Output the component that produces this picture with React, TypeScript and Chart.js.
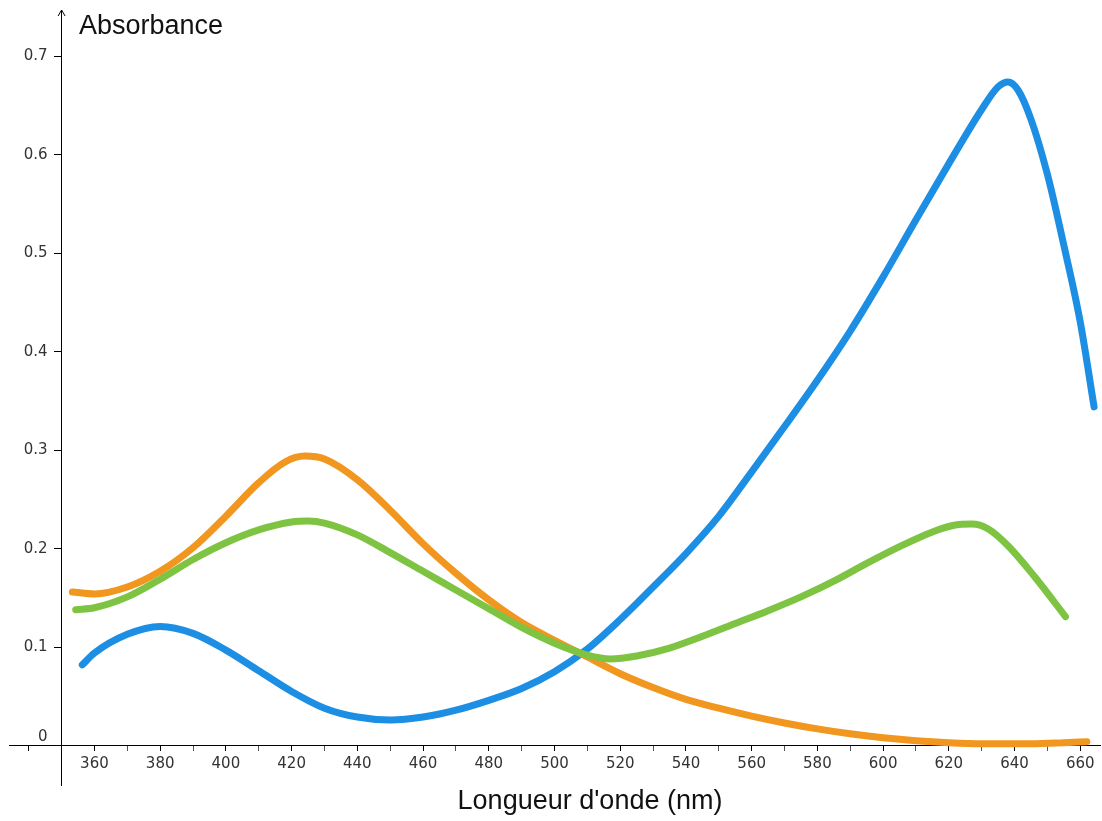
import React, { useEffect, useRef } from "react";
import { Chart, registerables } from "chart.js";

Chart.register(...registerables);

// Wavelengths (nm) and absorbances
const blueNm = [356.3, 360, 370, 380, 390, 400, 410, 420, 430, 440, 450, 460, 470, 480, 490, 500, 510, 520, 530, 540, 550, 560, 570, 580, 590, 600, 610, 620, 630, 635, 638, 641, 645, 650, 655, 660, 664.2];
const blueAbs = [0.082, 0.094, 0.113, 0.121, 0.114, 0.097, 0.076, 0.055, 0.038, 0.029, 0.026, 0.029, 0.036, 0.046, 0.058, 0.075, 0.098, 0.128, 0.161, 0.195, 0.233, 0.278, 0.324, 0.371, 0.421, 0.476, 0.534, 0.591, 0.646, 0.669, 0.674, 0.666, 0.636, 0.580, 0.508, 0.430, 0.344];

const orangeNm = [353.3, 360, 370, 380, 390, 400, 410, 418, 424, 430, 440, 450, 460, 470, 480, 490, 500, 510, 520, 530, 540, 550, 560, 570, 580, 590, 600, 610, 620, 630, 645, 655, 662];
const orangeAbs = [0.156, 0.154, 0.161, 0.177, 0.201, 0.233, 0.267, 0.288, 0.294, 0.291, 0.270, 0.239, 0.205, 0.175, 0.148, 0.125, 0.107, 0.090, 0.073, 0.059, 0.047, 0.038, 0.030, 0.023, 0.017, 0.012, 0.008, 0.005, 0.003, 0.002, 0.002, 0.003, 0.004];

const greenNm = [354.3, 360, 370, 380, 390, 400, 410, 420, 425, 430, 440, 450, 460, 470, 480, 490, 500, 510, 517, 525, 535, 545, 555, 565, 575, 585, 595, 605, 615, 622, 627, 632, 638, 646, 655.5];
const greenAbs = [0.138, 0.140, 0.151, 0.169, 0.189, 0.206, 0.219, 0.227, 0.228, 0.226, 0.214, 0.196, 0.177, 0.158, 0.139, 0.120, 0.104, 0.092, 0.088, 0.091, 0.099, 0.111, 0.124, 0.137, 0.151, 0.167, 0.185, 0.202, 0.217, 0.224, 0.225, 0.220, 0.203, 0.172, 0.131];

const xTickMajor = [360, 380, 400, 420, 440, 460, 480, 500, 520, 540, 560, 580, 600, 620, 640, 660];
const yTickLabels = ["0", "0.1", "0.2", "0.3", "0.4", "0.5", "0.6", "0.7"];

const xTitle = "Longueur d'onde (nm)";
const yTitle = "Absorbance";

const BLUE = "rgb(28,142,228)";
const ORANGE = "rgb(241,150,30)";
const GREEN = "rgb(126,196,66)";

function toPoints(xs: number[], ys: number[]) {
  return xs.map((x, i) => ({ x, y: ys[i] }));
}

const decorPlugin = {
  id: "decor",
  afterDraw(chart: any) {
    const ctx = chart.ctx;
    const xs = chart.scales.x;
    const ax = xs.getPixelForValue(350);
    const top = chart.chartArea.top;
    ctx.save();
    // arrow head on the y axis
    ctx.strokeStyle = "#000";
    ctx.lineWidth = 1;
    ctx.beginPath();
    ctx.moveTo(ax - 3.5, top + 6);
    ctx.lineTo(ax, top);
    ctx.lineTo(ax + 3.5, top + 6);
    ctx.stroke();
    // titles
    ctx.fillStyle = "#111";
    ctx.font = "27px 'Liberation Sans', Arial, sans-serif";
    ctx.textBaseline = "alphabetic";
    ctx.textAlign = "left";
    ctx.fillText(yTitle, 79, 34);
    ctx.textAlign = "center";
    ctx.fillText(xTitle, 590, 809);
    ctx.restore();
  },
};

export default function App() {
  const ref = useRef<HTMLCanvasElement | null>(null);
  useEffect(() => {
    if (!ref.current) return;
    const common = {
      pointRadius: 0,
      borderWidth: 7,
      cubicInterpolationMode: "monotone" as const,
      borderCapStyle: "round" as const,
      borderJoinStyle: "round" as const,
      fill: false,
    };
    const tickFont = { family: "'DejaVu Sans', sans-serif", size: 15 };
    const chart = new Chart(ref.current, {
      type: "line",
      data: {
        datasets: [
          { ...common, label: "green", data: toPoints(greenNm, greenAbs), borderColor: GREEN },
          { ...common, label: "orange", data: toPoints(orangeNm, orangeAbs), borderColor: ORANGE },
          { ...common, label: "blue", data: toPoints(blueNm, blueAbs), borderColor: BLUE },
        ],
      },
      options: {
        animation: false,
        responsive: true,
        maintainAspectRatio: false,
        layout: { padding: { left: 9, right: 2, top: 10, bottom: 36 } },
        plugins: { legend: { display: false }, tooltip: { enabled: false } },
        scales: {
          x: {
            type: "linear",
            min: 334,
            max: 666,
            position: { y: 0 } as any,
            border: { display: true, color: "#000", width: 1 },
            grid: {
              drawOnChartArea: false,
              drawTicks: true,
              tickLength: 5,
              tickColor: (c: any) => (c.tick && c.tick.value % 20 === 0 ? "#000" : "#555"),
            },
            ticks: {
              stepSize: 10,
              autoSkip: false,
              includeBounds: false,
              maxRotation: 0,
              padding: 4,
              color: "#333",
              font: tickFont,
              callback: (v: any) => {
                const n = Math.round(Number(v));
                return xTickMajor.includes(n) ? String(n) : "";
              },
            },
          },
          y: {
            type: "linear",
            min: -0.04,
            max: 0.747,
            position: { x: 350 } as any,
            border: { display: true, color: "#000", width: 1 },
            grid: { drawOnChartArea: false, drawTicks: true, tickLength: 7, tickColor: "#000" },
            ticks: { stepSize: 0.1, includeBounds: false, autoSkip: false, display: false },
          },
          yl: {
            type: "linear",
            axis: "y",
            min: -0.04,
            max: 0.747,
            position: { x: 345.75 } as any,
            border: { display: false },
            grid: { display: false, drawTicks: false },
            ticks: {
              stepSize: 0.1,
              includeBounds: false,
              autoSkip: false,
              padding: 0,
              color: "#333",
              font: tickFont,
              callback: (v: any) => {
                const i = Math.round(Number(v) * 10);
                if (i === 0) return [yTickLabels[0], ""];
                return yTickLabels[i] ?? "";
              },
            },
          } as any,
        },
      },
      plugins: [decorPlugin],
    });
    return () => chart.destroy();
  }, []);
  return (
    <div style={{ position: "fixed", left: 0, top: 0, width: 1102, height: 821, background: "#fff" }}>
      <canvas ref={ref} />
    </div>
  );
}
